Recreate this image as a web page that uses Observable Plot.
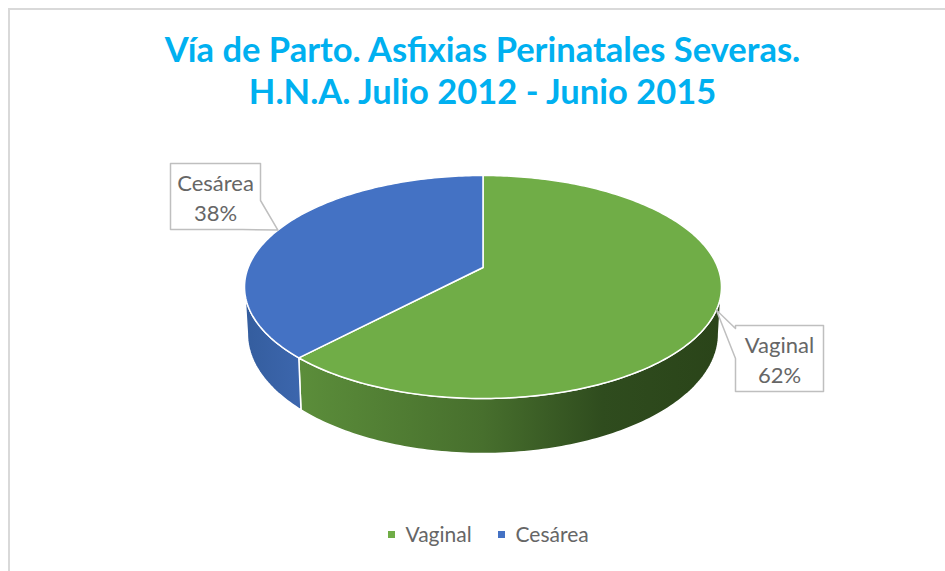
<!DOCTYPE html>
<html><head><meta charset="utf-8">
<script src="https://cdn.jsdelivr.net/npm/d3@7"></script>
<script src="https://cdn.jsdelivr.net/npm/@observablehq/plot@0.6"></script>
<style>
body{margin:0;background:#fff;}
#wrap{position:relative;width:945px;height:571px;overflow:hidden;}
#border{position:absolute;left:8px;top:8px;width:2000px;height:2000px;border-left:2px solid #d9d9d9;border-top:2px solid #d9d9d9;pointer-events:none;}
</style>
</head><body>
<div id="wrap"><div id="chart"></div><div id="border"></div></div>
<script>
// ---- data ----
const categories = ["Vaginal", "Cesárea"];
const values = [62, 38];
const titleLines = ["Vía de Parto. Asfixias Perinatales Severas.", "H.N.A. Julio 2012 - Junio 2015"];

// ---- styles ----
const topColors = ["#70AD47", "#4472C4"];
const sideFills = ["url(#gradGreen)", "url(#gradBlue)"];
const FONT = "Lato, 'Open Sans', sans-serif";

// ---- perspective pie geometry ----
const G = {x0: 482.5, apexY: 267, a: 234.8, g: 0.1749, q: -61.4, ab: 232, drop: 45.4};
function proj(t, bottom) {
  const r = t * Math.PI / 180, u = Math.sin(r), v = Math.cos(r), k = 1 + G.g * v;
  const x = G.x0 + (bottom ? G.ab : G.a) * u / k;
  const y = (G.apexY + G.q * v + (bottom ? G.drop : 0)) / k;
  return [x, y];
}
const total = d3.sum(values);
let acc = 0;
const slices = categories.map((c, i) => {
  const a0 = acc / total * 360; acc += values[i]; const a1 = acc / total * 360;
  return {name: c, value: values[i], pct: Math.round(values[i] / total * 100), a0, a1, i};
});
function arc(a0, a1, bottom) {
  const n = Math.max(2, Math.ceil((a1 - a0) / 1));
  return d3.range(n + 1).map(j => proj(a0 + (a1 - a0) * j / n, bottom));
}
const visLo = Math.acos(-G.g) * 180 / Math.PI, visHi = 360 - visLo;

const marks = [];
// gradient defs
marks.push(() => {
  const g = d3.create("svg:g");
  const defs = g.append("defs");
  const gg = defs.append("linearGradient").attr("id", "gradGreen").attr("gradientUnits", "userSpaceOnUse")
    .attr("x1", 244).attr("x2", 721).attr("y1", 0).attr("y2", 0);
  [[0, "#679f43"], [0.12, "#5b8d3a"], [0.5, "#476f2d"], [0.75, "#2f4c1e"], [1, "#2a4419"]]
    .forEach(([o, c]) => gg.append("stop").attr("offset", o).attr("stop-color", c));
  const gb = defs.append("linearGradient").attr("id", "gradBlue").attr("gradientUnits", "userSpaceOnUse")
    .attr("x1", 244).attr("x2", 300).attr("y1", 0).attr("y2", 0);
  [[0, "#345d9e"], [1, "#3c66ad"]]
    .forEach(([o, c]) => gb.append("stop").attr("offset", o).attr("stop-color", c));
  return g.node();
});
// sides
slices.forEach(s => {
  const lo = Math.max(s.a0, visLo), hi = Math.min(s.a1, visHi);
  if (hi <= lo) return;
  const pts = arc(lo, hi, false).concat(arc(lo, hi, true).reverse());
  marks.push(Plot.line(pts, {x: d => d[0], y: d => d[1], curve: "linear-closed",
    fill: sideFills[s.i], stroke: "white", strokeWidth: 1.5, strokeLinejoin: "round"}));
});
// top faces
slices.forEach(s => {
  const pts = [[G.x0, G.apexY]].concat(arc(s.a0, s.a1, false));
  marks.push(Plot.line(pts, {x: d => d[0], y: d => d[1], curve: "linear-closed",
    fill: topColors[s.i], stroke: "white", strokeWidth: 1.5, strokeLinejoin: "round"}));
});
// callouts
const boxes = [
  {x0: 735, y0: 325, x1: 823, y1: 391, w: (b, tip) => [[b.x0,b.y0],[b.x1,b.y0],[b.x1,b.y1],[b.x0,b.y1],[b.x0,358],tip,[b.x0,328]]},
  {x0: 170, y0: 163, x1: 260, y1: 229, w: (b, tip) => [[b.x0,b.y0],[b.x1,b.y0],[b.x1,200],tip,[242,b.y1],[b.x0,b.y1]]}
];
slices.forEach(s => {
  const b = boxes[s.i];
  const tip = proj((s.a0 + s.a1) / 2, false);
  const pts = b.w(b, tip);
  marks.push(Plot.line(pts, {x: d => d[0], y: d => d[1], curve: "linear-closed",
    fill: "white", stroke: "#bfbfbf", strokeWidth: 1.5}));
  const cx = (b.x0 + b.x1) / 2;
  marks.push(Plot.text([s.name, s.pct + "%"], {x: () => cx, y: (d, j) => b.y0 + 27 + j * 30,
    text: d => d, fontSize: 22, fill: "#666", fontFamily: FONT, lineAnchor: "bottom", textAnchor: "middle"}));
});
// title
marks.push(Plot.text(titleLines, {x: () => 482, y: (d, j) => 61 + j * 42, text: d => d,
  fontSize: 34.5, fontWeight: "bold", fill: "#00B0F0", fontFamily: FONT, lineAnchor: "bottom", textAnchor: "middle"}));
// legend
const legX = [388, 498];
marks.push(Plot.rect(categories, {x1: (d, j) => legX[j], x2: (d, j) => legX[j] + 7, y1: () => 531, y2: () => 538,
  fill: (d, j) => topColors[j]}));
marks.push(Plot.text(categories, {x: (d, j) => legX[j] + 17, y: () => 541, text: d => d,
  fontSize: 21, fill: "#666", fontFamily: FONT, lineAnchor: "bottom", textAnchor: "start"}));

const chart = Plot.plot({
  width: 945, height: 571, margin: 0,
  x: {type: "identity", axis: null}, y: {type: "identity", axis: null},
  color: {type: "identity"},
  style: {background: "white", overflow: "visible"},
  marks
});
document.getElementById("chart").appendChild(chart);
</script>
</body></html>
